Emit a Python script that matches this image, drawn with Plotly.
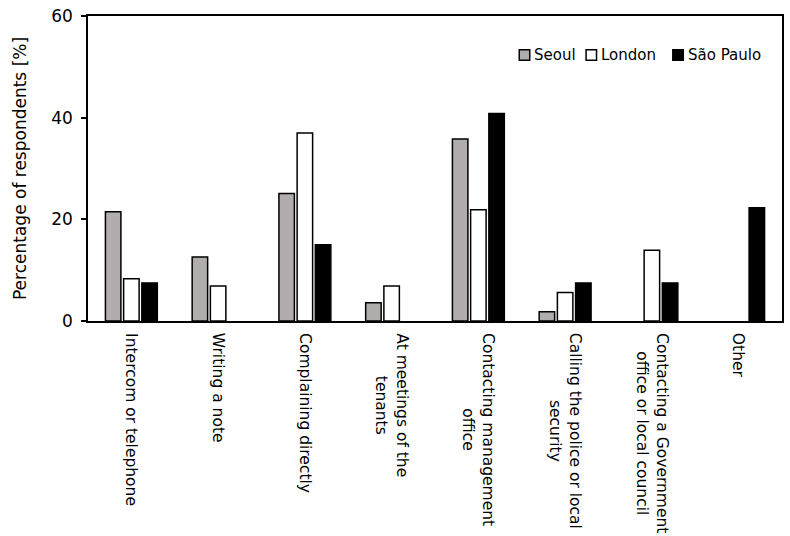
import plotly.graph_objects as go

categories = [
    "Intercom or telephone",
    "Writing a note",
    "Complaining directly",
    "At meetings of the<br>tenants",
    "Contacting management<br>office",
    "Calling the police or local<br>security",
    "Contacting a Government<br>office or local council",
    "Other",
]
seoul = [21.5, 12.6, 25.1, 3.6, 35.8, 1.8, None, None]
london = [8.3, 6.9, 37.0, 6.9, 21.9, 5.6, 13.9, None]
sao_paulo = [7.5, None, 15.0, None, 40.8, 7.5, 7.5, 22.3]
series_names = ["Seoul", "London", "São Paulo"]
series_colors = ["#b1adac", "#ffffff", "#000000"]
y_ticks = [0, 20, 40, 60]

FONT = "DejaVu Sans"

# layout geometry (page pixels; the page body margin is removed below)
W, H = 790, 536
ML, MR, MT, MB = 88, 6, 14, 215
PX0 = ML
PW = W - ML - MR
PY1 = H - MB
PH = H - MT - MB


def px_x(p):
    return (p - PX0) / PW


def px_y(p):
    return (PY1 - p) / PH


fig = go.Figure()
for name, vals, col in zip(series_names, [seoul, london, sao_paulo], series_colors):
    fig.add_trace(go.Bar(
        x=categories, y=vals, name=name, showlegend=False,
        marker=dict(color=col, line=dict(color="#000000", width=1.5)),
    ))

for c in categories:
    fig.add_annotation(
        x=c, xref="x", y=0, yref="paper", yshift=-10,
        text=c, textangle=90, showarrow=False,
        xanchor="center", yanchor="top", align="center",
        font=dict(family=FONT, size=15.5, color="#000000"),
    )

# legend (drawn in the top-right of the plot area)
legend_square_left = [520.5, 587.5, 674.5]
legend_text_left = [533.5, 600.5, 687.5]
for name, col, sx, tx in zip(series_names, series_colors, legend_square_left, legend_text_left):
    fig.add_shape(
        type="rect", xref="paper", yref="paper",
        x0=px_x(sx), x1=px_x(sx + 10.5), y0=px_y(58.5), y1=px_y(48),
        fillcolor=col, line=dict(color="#000000", width=1.5),
    )
    fig.add_annotation(
        x=px_x(tx), y=px_y(53), xref="paper", yref="paper",
        text=name, showarrow=False, xanchor="left", yanchor="middle",
        font=dict(family=FONT, size=15, color="#000000"),
    )

fig.update_layout(
    width=W, height=H,
    margin=dict(l=ML, r=MR, t=MT, b=MB),
    paper_bgcolor="#ffffff", plot_bgcolor="#ffffff",
    barmode="group", bargap=0.37, bargroupgap=0.15,
    font=dict(family=FONT, size=14, color="#000000"),
    showlegend=False,
    xaxis=dict(
        showticklabels=False, ticks="", showline=True, linecolor="#000000",
        linewidth=1.5, mirror=True, showgrid=False, automargin=False,
    ),
    yaxis=dict(
        range=[0, 60], tickvals=y_ticks, ticks="outside", ticklen=5,
        tickwidth=1.5, tickcolor="#000000", showline=True, linecolor="#000000",
        linewidth=1.5, mirror=True, showgrid=False, zeroline=False,
        automargin=True, ticklabelstandoff=5, ticklabeloverflow="allow",
        tickfont=dict(family=FONT, size=17),
        title=dict(text="Percentage of respondents [%]", font=dict(family=FONT, size=17), standoff=20),
    ),
)

fig.write_html(
    "out.html",
    config={"displayModeBar": False},
    post_script="document.body.style.margin='0px';",
)
